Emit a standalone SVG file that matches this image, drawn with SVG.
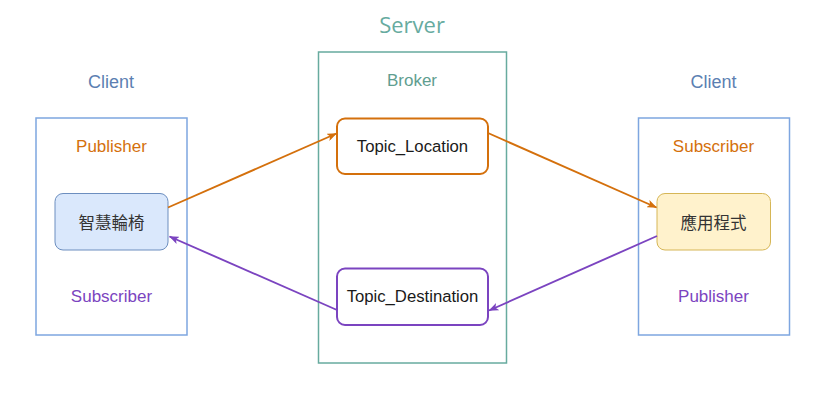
<svg xmlns="http://www.w3.org/2000/svg" width="832" height="405" viewBox="0 0 832 405">
<style>
.t{font-family:"Liberation Sans",Arial,sans-serif;text-anchor:middle;dominant-baseline:central}
.o{font-family:"Open Sans","Liberation Sans",sans-serif;text-anchor:middle;dominant-baseline:central}
.cjk{font-family:"Noto Sans CJK TC","Noto Sans CJK SC",sans-serif;text-anchor:middle;dominant-baseline:central;font-size:16.5px;fill:#333333}
.client{fill:none;stroke:#7ea6e0;stroke-width:1.5}
.ctitle{font-size:18px;fill:#5c7fb2}
.orange{fill:#d4700c}
.purple{fill:#7b44c0}
.lbl{font-size:17px}
.topic{fill:#ffffff;stroke-width:2}
.edge{fill:none;stroke-width:1.9}
</style>
<defs>
<marker id="ao" viewBox="0 0 10 8" refX="9.5" refY="4" markerWidth="10" markerHeight="8" markerUnits="userSpaceOnUse" orient="auto">
<path d="M0,0 L10,4 L0,8 L2.5,4 Z" fill="#d4700c"/>
</marker>
<marker id="ap" viewBox="0 0 10 8" refX="9.5" refY="4" markerWidth="10" markerHeight="8" markerUnits="userSpaceOnUse" orient="auto">
<path d="M0,0 L10,4 L0,8 L2.5,4 Z" fill="#7b44c0"/>
</marker>
</defs>
<rect width="832" height="405" fill="#ffffff"/>

<g id="server">
<text class="o" x="412" y="24" font-size="22" fill="#67ab9f">Server</text>
<rect x="318.5" y="52" width="188" height="311" fill="none" stroke="#67ab9f" stroke-width="1.5"/>
<text class="t" x="412" y="80" font-size="17" fill="#5f9e90">Broker</text>
</g>

<g id="client-left">
<text class="t ctitle" x="111" y="81.5">Client</text>
<rect class="client" x="36" y="118" width="151" height="217"/>
<text class="t lbl orange" x="111.5" y="146">Publisher</text>
<text class="t lbl purple" x="111.5" y="296.5">Subscriber</text>
</g>

<g id="client-right">
<text class="t ctitle" x="713.5" y="81.5">Client</text>
<rect class="client" x="638.5" y="118" width="151" height="217"/>
<text class="t lbl orange" x="713.5" y="146">Subscriber</text>
<text class="t lbl purple" x="713.5" y="296.5">Publisher</text>
</g>

<g id="wheelchair">
<rect x="55" y="193.5" width="113" height="56.5" rx="8" fill="#dae8fc" stroke="#6c8ebf" stroke-width="1"/>
<text class="cjk" x="111.5" y="221.5">智慧輪椅</text>
</g>

<g id="app">
<rect x="657" y="193.5" width="113.5" height="56.5" rx="8" fill="#fff2cc" stroke="#d6b656" stroke-width="1"/>
<text class="cjk" x="713.5" y="221.5">應用程式</text>
</g>

<g id="topic-location">
<rect class="topic" x="337" y="118.5" width="151" height="55.5" rx="8" stroke="#d4700c"/>
<text class="t" x="412.5" y="146" font-size="16.7" fill="#1a1a1a">Topic_Location</text>
</g>

<g id="topic-destination">
<rect class="topic" x="337" y="268.5" width="151" height="56.5" rx="8" stroke="#7b44c0"/>
<text class="t" x="412.5" y="296.5" font-size="16.7" fill="#1a1a1a">Topic_Destination</text>
</g>

<g id="connectors">
<line class="edge" x1="168" y1="207.5" x2="336.5" y2="133.5" stroke="#d4700c" marker-end="url(#ao)"/>
<line class="edge" x1="488" y1="133" x2="656.5" y2="207.5" stroke="#d4700c" marker-end="url(#ao)"/>
<line class="edge" x1="657" y1="236" x2="489" y2="310.5" stroke="#7b44c0" marker-end="url(#ap)"/>
<line class="edge" x1="337" y1="310" x2="169.5" y2="236.5" stroke="#7b44c0" marker-end="url(#ap)"/>
</g>
</svg>
